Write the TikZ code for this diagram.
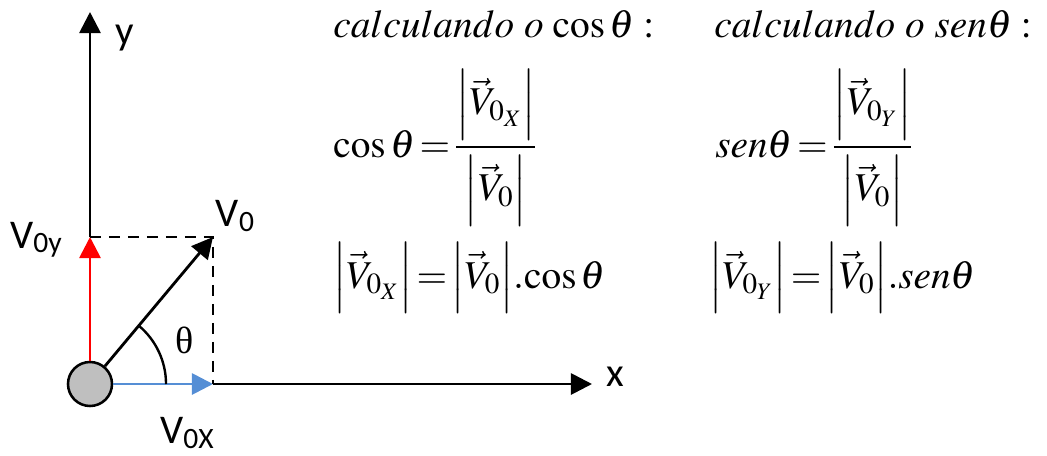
\documentclass[tikz,border=0pt]{standalone}
\usepackage[no-math]{fontspec}
\usepackage{mathptmx}
\setmainfont{Liberation Serif}
\newfontfamily\rotulofont{Carlito}
\newfontfamily\tetafont{Liberation Serif}
\usetikzlibrary{arrows.meta}
\definecolor{azulvx}{RGB}{85,142,213}
\newcommand{\Vind}[1]{V{\fontsize{21}{21}\selectfont\raisebox{-3pt}{#1}}}
\newcommand{\modfrac}[1]{\left|\rule[-19pt]{0pt}{53pt}#1\right|}
\newcommand{\modlin}[1]{\left|\rule[-16pt]{0pt}{46pt}#1\right|}
\newcommand{\apertado}{\thickmuskip=2mu\relax\medmuskip=2mu\relax}

\begin{document}
\begin{tikzpicture}[x=0.025cm, y=-0.025cm,
  vetor/.style={line width=2pt, -{Triangle[length=15pt, width=15pt]}},
  tracejado/.style={line width=1.7pt, dash pattern=on 8pt off 5.5pt},
  rotulo/.style={font=\rotulofont\fontsize{29}{30}\selectfont, inner sep=0pt},
  formula/.style={font=\fontsize{28}{34}\selectfont\apertado, inner sep=0pt, anchor=base west}]
\useasboundingbox (0,0) rectangle (1047,455);

% Pontos do diagrama
\node (bola) [circle, draw, line width=1.8pt, fill=black!25, minimum size=1.1cm, inner sep=0pt] at (90,384) {};
\coordinate (pvy) at (90,237);
\coordinate (pv0) at (213,237);
\coordinate (pvx) at (213,384);
\coordinate (ytopo) at (90,12);
\coordinate (xfim) at (592,384);

% Eixos e componentes
\draw [vetor, red] (bola) -- (pvy);
\draw [vetor] (pvy) -- (ytopo);
\draw [vetor, azulvx] (bola) -- (pvx);
\draw [vetor] (pvx) -- (xfim);
\draw [tracejado] (pvy) -- (pv0) -- (pvx);
\draw [vetor] (bola) -- (pv0);
\draw [line width=1.7pt] (bola.center) ++(0:1.9cm) arc[start angle=0, end angle=50, radius=1.9cm];

% Rotulos
\node (ly) [rotulo] at (125,38) {y};
\node (lx) [rotulo] at (615,377) {x};
\node (lv0) [rotulo] at (235,216) {\Vind{0}};
\node (lv0y) [rotulo] at (36,240) {\Vind{0y}};
\node (lv0x) [rotulo] at (187,433) {\Vind{0X}};
\node (lteta) [font=\tetafont\fontsize{27}{28}\selectfont, inner sep=0pt] at (185,340) {θ};

% Formulas
\node (tcos) [formula] at (333,37) {$calculando\ o\,\cos\theta\;:$};
\node (tsen) [formula] at (714,37) {$calculando\ o\ sen\theta\;:$};
\node (fcos) [formula] at (333,157) {$\displaystyle\cos\theta=\frac{\modfrac{\vec{V}_{0_X}}}{\modfrac{\vec{V}_0}}$};
\node (fsen) [formula] at (715,157) {$\displaystyle sen\theta=\frac{\modfrac{\vec{V}_{0_Y}}}{\modfrac{\vec{V}_0}}$};
\node (rcos) [formula] at (333,288) {$\modlin{\vec{V}_{0_X}}=\modlin{\vec{V}_0}\!.\!\cos\theta$};
\node (rsen) [formula] at (709,288) {$\modlin{\vec{V}_{0_Y}}=\modlin{\vec{V}_0}\!.sen\theta$};
\end{tikzpicture}
\end{document}
